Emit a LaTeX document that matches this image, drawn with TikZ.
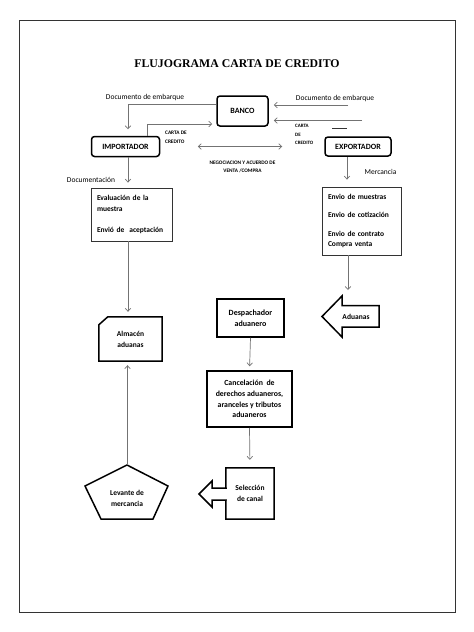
\documentclass[tikz,border=0pt]{standalone}
\usepackage{fontspec}
\setmainfont{Liberation Serif}
\newfontfamily\calf{Carlito}
\usetikzlibrary{arrows.meta}
\begin{document}
\begin{tikzpicture}[x=1pt,y=-1pt,
  shapeline/.style={draw=black, line width=1.5pt},
  rbox/.style={shapeline, rounded corners=3pt, inner sep=0pt, font=\calf\bfseries\fontsize{8}{10}\selectfont},
  tbox/.style={draw=black!80, line width=0.8pt, inner xsep=6pt, inner ysep=0pt, align=left, font=\calf\bfseries\fontsize{7.5}{10.5}\selectfont},
  sbox/.style={shapeline, inner sep=0pt, align=center, font=\calf\bfseries\fontsize{8}{11}\selectfont},
  ctext/.style={inner sep=0pt, align=center, font=\calf\bfseries\fontsize{7.5}{11}\selectfont},
  conn/.style={draw=black!55, line width=0.7pt, -{Straight Barb[length=3pt,width=5.5pt]}},
  lbl/.style={inner sep=0pt, font=\calf\fontsize{7.5}{9}\selectfont},
  tiny/.style={inner sep=0pt, align=left, font=\calf\bfseries\fontsize{5.3}{8.5}\selectfont},
]
\useasboundingbox (0,0) rectangle (474,632);
\fill[white] (0,0) rectangle (474,632);
% frame
\draw[black!80, line width=1pt] (19,20) rectangle (455,612);
% title
\node[inner sep=0pt, font=\bfseries\fontsize{11.8}{15}\selectfont] (title) at (237,64) {FLUJOGRAMA CARTA DE CREDITO};

% top nodes
\node[rbox, minimum width=51pt, minimum height=30pt] (banco) at (242.5,111) {BANCO};
\node[rbox, minimum width=68pt, minimum height=20pt] (imp) at (125.5,146.5) {IMPORTADOR};
\node[rbox, minimum width=66pt, minimum height=19pt] (exp) at (358,146.5) {EXPORTADOR};

% labels
\node[lbl] (ldoc1) at (145,97) {Documento de embarque};
\node[lbl] (ldoc2) at (335,98) {Documento de embarque};
\node[tiny, anchor=west] (lcarta1) at (165,137.5) {CARTA DE\\CREDITO};
\node[tiny, anchor=west, font=\calf\bfseries\fontsize{5}{8.5}\selectfont] (lcarta2) at (295,134.5) {CARTA\\DE\\CREDITO};
\node[tiny, align=center] (lneg) at (242.5,167) {NEGOCIACION Y ACUERDO DE\\VENTA /COMPRA};
\node[lbl] (ldocu) at (91,180) {Documentación};
\node[lbl] (lmerc) at (380.5,172) {Mercancia};

% free coordinates of right arrows
\coordinate (d1) at (348,105);
\coordinate (d2) at (362,120.5);
\draw[conn] (d1) -- ([xshift=5pt,yshift=6pt]banco.east);
\draw[conn] (d2) -- ([xshift=5pt,yshift=-9.5pt]banco.east);
\coordinate (dashA) at (332,128.5);
\coordinate (dashB) at (347,128.5);
\draw[black!80, line width=0.8pt] (dashA) -- (dashB);

% top connectors
\draw[conn] ([yshift=7pt]banco.west) -| ([xshift=2.5pt,yshift=6.5pt]imp.north);
\draw[conn] ([xshift=21.5pt]imp.north) |- ([xshift=-4pt,yshift=-13pt]banco.west);
\draw[conn, {Straight Barb[length=3pt,width=5.5pt]}-{Straight Barb[length=3pt,width=5.5pt]}, shorten <=37.5pt, shorten >=42pt] (imp.east) -- (exp.west);

% middle boxes
\node[tbox, minimum width=81pt, minimum height=53pt, text width=69pt] (lbox) at (131.5,214.5)
  {Evaluación de la\\muestra\\[10.5pt]Envió de \ aceptación};
\node[tbox, minimum width=79pt, minimum height=68pt, text width=67pt] (rbox) at (361.5,221)
  {Envio de muestras\\[7.5pt]Envio de cotización\\[8pt]Envio de contrato\\Compra venta};

\draw[conn, shorten >=5pt] ([xshift=2.5pt]imp.south) -- ([xshift=2.5pt]imp.south |- lbox.north);
\draw[conn, shorten >=7pt] ([xshift=-11pt]exp.south) -- ([xshift=-11pt]exp.south |- rbox.north);

% Almacen
\node[ctext, minimum width=63pt, minimum height=44pt] (alm) at (130.5,339) {Almacén\\aduanas};
\draw[shapeline] ([yshift=-8pt]alm.north west) -- ([xshift=9pt]alm.north west) -- (alm.north east) -- (alm.south east) -- (alm.south west) -- cycle;
\draw[conn, shorten >=5pt] ([xshift=-3.5pt]lbox.south) -- ([xshift=-3.5pt]lbox.south |- alm.north);

% Aduanas arrow
\node[ctext] (adu) at (356,316.5) {Aduanas};
\draw[shapeline, line join=miter] (322,316.5) -- (342,296) -- (342,305.5) -- (379,305.5) -- (379,327) -- (342,327) -- (342,337) -- cycle;
\coordinate (adutop) at (348,296);
\draw[conn, shorten >=6pt] ([xshift=-13.5pt]rbox.south) -- (adutop);

% Despachador, Cancelacion
\node[sbox, minimum width=67pt, minimum height=38pt] (desp) at (250.5,318) {Despachador\\aduanero};
\node[sbox, minimum width=85pt, minimum height=56pt, font=\calf\bfseries\fontsize{7.8}{10.6}\selectfont] (canc) at (249.5,399)
  {Cancelación \ de\\derechos aduaneros,\\aranceles y tributos\\aduaneros};
\draw[conn, shorten >=4pt] (desp.south) -- (canc.north);

% Seleccion de canal
\node[ctext, minimum width=48pt, minimum height=51pt] (sel) at (250,493.5) {Selección\\de canal};
\draw[shapeline, line join=miter] (sel.north west) -- (sel.north east) -- (sel.south east) -- (sel.south west)
  -- (226,500) -- (212,500) -- (212,507) -- (199,494) -- (212,481) -- (212,488) -- (226,488) -- cycle;
\draw[conn, shorten >=8pt] (canc.south) -- (sel.north);

% Levante
\node[ctext] (lev) at (127,498.5) {Levante de\\mercancia};
\draw[shapeline, line join=miter] (127,465) -- (168,486) -- (153,519) -- (101,519) -- (85,486) -- cycle;
\coordinate (levtop) at (127.5,465);
\draw[conn, shorten >=4pt] (levtop) -- (levtop |- alm.south);

\end{tikzpicture}
\end{document}
